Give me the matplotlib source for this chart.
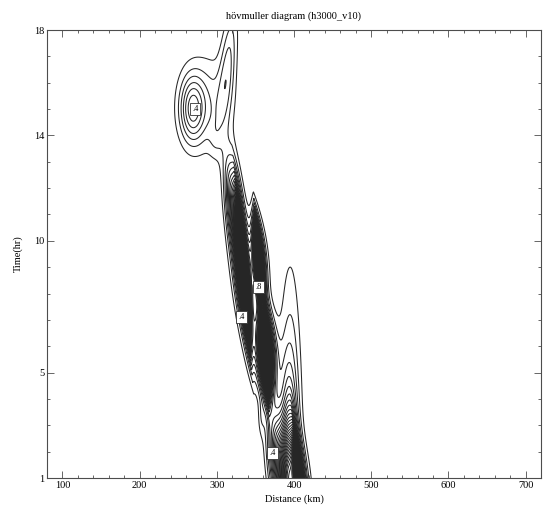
import numpy as np
import matplotlib
matplotlib.use('Agg')
from matplotlib import pyplot as plt
from matplotlib.ticker import MultipleLocator

# wave packets:
# centre distance (km), centre time (hr), peak value,
# width in distance (km), width in time (hr), tilt (km per hr),
# profile across distance (1 = sharp ridge, 2 = smooth)
feat_x    = [268, 288, 314, 298, 322, 334, 354, 363, 405, 382, 395, 393, 358]
feat_t    = [15.0, 15.2, 16.6, 13.9, 11.3, 8.8, 9.2, 5.8, 0.8, 1.5, 0.0, 0.5, 3.3]
feat_amp  = [0.42, 0.2, 0.25, 0.08, 0.6, 5.0, 4.0, 5.0, 4.0, 0.9, 0.5, 1.0, 0.1]
feat_sx   = [11, 22, 7, 6, 7, 4, 3.5, 5, 4.5, 9, 9, 6, 3]
feat_st   = [0.85, 1.2, 1.5, 0.5, 1.3, 1.5, 0.95, 1.0, 1.1, 1.4, 4.7, 2.0, 0.5]
feat_tilt = [0, 0, 3, 0, -3, -3, -2.5, -2, -3, -3, 0, 0, 0]
feat_pow  = [2, 2, 2, 2, 2, 1, 1, 1, 1, 2, 2, 2, 2]

# contour levels every 0.08
levels = np.round(np.arange(1, 70) * 0.08, 2)

# contour labels: level, distance, time
lab_level = [0.4, 0.8, 0.4, 0.4]
lab_x     = [272, 354, 332, 372]
lab_t     = [15.0, 8.25, 7.1, 1.95]

xticks = [100, 200, 300, 400, 500, 600, 700]
yticks = [1, 5, 10, 14, 18]

dist = np.arange(80, 721, 0.5)
time = np.arange(0, 18.6, 0.04)
X, T = np.meshgrid(dist, time)
field = np.zeros_like(X)
for x0, t0, a, sx, st, tilt, p in zip(feat_x, feat_t, feat_amp, feat_sx, feat_st,
                                      feat_tilt, feat_pow):
    xr = X - x0 - tilt * (T - t0)
    field += a * np.exp(-np.abs(xr / sx) ** p / p - 0.5 * ((T - t0) / st) ** 2)

plt.rcParams['font.family'] = ['Liberation Serif', 'DejaVu Serif']
fig = plt.figure(figsize=(5.45, 5.16), dpi=100)
ax = fig.add_axes([47 / 545, 38 / 516, 494 / 545, 448 / 516])

cs = ax.contour(X, T, field, levels=levels, colors='0.15', linewidths=0.75)

fmt = lambda v: ('%.1f' % v).lstrip('0')
for lv, lx, lt in zip(lab_level, lab_x, lab_t):
    ax.text(lx, lt, fmt(lv), fontsize=6, ha='center', va='center',
            bbox=dict(boxstyle='square,pad=0.25', fc='white', ec='0.2', lw=0.6))

ax.set_xlim(80, 720)
ax.set_ylim(1, 18)
ax.set_xticks(xticks)
ax.set_yticks(yticks)
ax.xaxis.set_minor_locator(MultipleLocator(20))
ax.yaxis.set_minor_locator(MultipleLocator(1))
ax.tick_params(which='both', direction='in', top=True, right=True, labelsize=7.5,
               width=0.6, color='0.3')
ax.tick_params(which='major', length=5, pad=2)
ax.tick_params(which='minor', length=2.5)
for s in ax.spines.values():
    s.set_linewidth(0.8)
    s.set_color('0.3')

ax.set_title('h\u00f6vmuller diagram (h3000_v10)', fontsize=7.5, pad=8)
ax.set_xlabel('Distance (km)', fontsize=7.5, labelpad=3)
ax.set_ylabel('Time(hr)', fontsize=7.5, labelpad=8)

fig.savefig('out.png', dpi=100)
